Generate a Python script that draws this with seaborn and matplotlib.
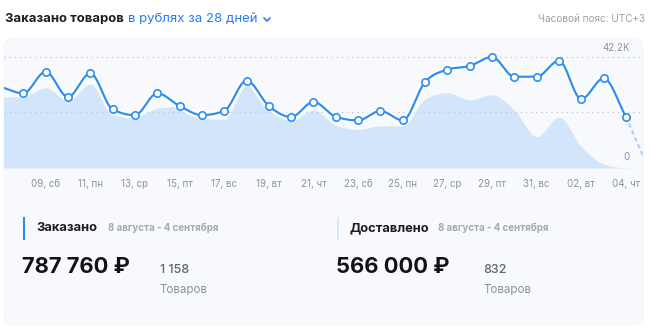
import numpy as np
import pandas as pd
import matplotlib
matplotlib.use("Agg")
import matplotlib.pyplot as plt
import seaborn as sns
from matplotlib.patches import FancyBboxPatch, Rectangle

# ---------------- data ----------------
# day index: 0 = 08 Aug; -1 = 07 Aug (partly visible), 28 = 05 Sep (dashed tail)
days = list(range(-1, 29))
ordered_k = [30.8, 28.4, 36.6, 27.0, 36.0, 22.3, 20.1, 28.4, 23.6, 20.1,
             21.7, 33.2, 23.6, 19.4, 25.1, 19.5, 18.1, 21.7, 18.1, 32.7,
             37.4, 38.8, 42.2, 34.7, 34.7, 40.8, 26.2, 34.1, 19.5, 0.0]
delivered_k = [27.0, 27.1, 30.5, 25.5, 31.9, 20.1, 19.3, 22.7, 23.3, 18.9,
               18.5, 31.2, 22.7, 18.0, 22.0, 16.3, 14.7, 16.0, 16.0, 26.2,
               28.6, 25.9, 27.8, 22.0, 11.9, 19.3, 8.1, 1.5, 0.1, 0.0]
tick_days = [1, 3, 5, 7, 9, 11, 13, 15, 17, 19, 21, 23, 25, 27]
tick_labels = ['09, сб', '11, пн', '13, ср', '15, пт', '17, вс', '19, вт', '21, чт',
               '23, сб', '25, пн', '27, ср', '29, пт', '31, вс', '02, вт', '04, чт']
y_max_label = 42.2
grid_values = [21.1, 42.2]

title = 'Заказано товаров'
title_link = 'в рублях за 28 дней'
timezone = 'Часовой пояс: UTC+3'
period = '8 августа - 4 сентября'
stat_names = ['Заказано', 'Доставлено']
stat_sums = ['787 760 ₽', '566 000 ₽']
stat_counts = ['1 158', '832']
count_unit = 'Товаров'

df = pd.DataFrame({'day': days, 'ordered': ordered_k, 'delivered': delivered_k})

# ---------------- helpers ----------------
def monotone_curve(x, y, n=24):
    x = np.asarray(x, float); y = np.asarray(y, float)
    h = np.diff(x); s = np.diff(y) / h
    m = np.zeros_like(y)
    m[0] = s[0]; m[-1] = s[-1]
    for k in range(1, len(y) - 1):
        p = (s[k - 1] * h[k] + s[k] * h[k - 1]) / (h[k - 1] + h[k])
        m[k] = (np.sign(s[k - 1]) + np.sign(s[k])) * min(abs(s[k - 1]), abs(s[k]), 0.5 * abs(p))
    xs, ys = [], []
    for k in range(len(x) - 1):
        t = np.linspace(0, 1, n, endpoint=False)
        h00 = 2 * t**3 - 3 * t**2 + 1; h10 = t**3 - 2 * t**2 + t
        h01 = -2 * t**3 + 3 * t**2; h11 = t**3 - t**2
        xs.append(x[k] + t * h[k])
        ys.append(h00 * y[k] + h10 * h[k] * m[k] + h01 * y[k + 1] + h11 * h[k] * m[k + 1])
    xs.append([x[-1]]); ys.append([y[-1]])
    return np.concatenate(xs), np.concatenate(ys)

W, H = 651, 330
def fx(px): return px / W
def fy(py): return 1 - py / H

sns.set_theme(style='white')
plt.rcParams['font.family'] = ['Inter', 'DejaVu Sans']

fig = plt.figure(figsize=(6.51, 3.30), dpi=100)
fig.patch.set_facecolor('white')

# card
card = FancyBboxPatch((0.04, 0.05), 6.39, 2.87,
                      boxstyle='round,pad=0,rounding_size=0.11',
                      transform=fig.dpi_scale_trans, facecolor='#f7f9fd',
                      edgecolor='#f0f2f7', linewidth=0.5, zorder=-5)
fig.patches.append(card)

BLUE = '#2f8ff0'
AREA = '#d2e5fa'
GRAY = '#8d939c'

ax = fig.add_axes([fx(4), fy(168), (643 - 4) / W, 130 / H])
ax.set_facecolor('none')
for sp in ax.spines.values():
    sp.set_visible(False)

# delivered area
ax_x, ax_y = monotone_curve(df['day'], df['delivered'])
ax.fill_between(ax_x, 0, ax_y, color=AREA, linewidth=0, zorder=1)

# gridlines
for g in grid_values:
    ax.axhline(g, color='#c4c8cf', lw=0.8, dashes=(1.3, 3.3), zorder=2)

# ordered line (solid part up to 04, dashed tail to 05)
solid = df[df['day'] <= 27]
lx, ly = monotone_curve(solid['day'], solid['ordered'])
ax.plot(lx, ly, color='white', lw=5.0, solid_capstyle='round', zorder=3)
sns.lineplot(x=lx, y=ly, ax=ax, color=BLUE, lw=1.6, zorder=4, sort=False)
tail = df[df['day'] >= 27]
sns.lineplot(x=tail['day'], y=tail['ordered'], ax=ax, color='#a9d0f7', lw=1.5,
             dashes=False, linestyle=(0, (2.0, 1.6)), zorder=4, sort=False)
pts = df[(df['day'] >= 0) & (df['day'] <= 27)]
sns.scatterplot(x=pts['day'], y=pts['ordered'], ax=ax, s=28, color='white',
                edgecolor=BLUE, linewidth=1.2, zorder=5)

ax.set_xlim((4 - 23.3) / 22.32, (643 - 23.3) / 22.32)
ax.set_ylim(0, 130 / 111 * 42.2)
ax.set_xticks(tick_days)
ax.set_xticklabels(tick_labels, fontsize=7, color=GRAY)
ax.set_yticks([])
ax.tick_params(axis='x', length=0, pad=8)
ax.set_xlabel(''); ax.set_ylabel('')

fig.text(fx(630), fy(48), f'{y_max_label}K', ha='right', va='center', fontsize=7, color=GRAY)
fig.text(fx(627), fy(157), '0', ha='center', va='center', fontsize=7, color=GRAY)

# header
fig.text(fx(5), fy(19), title, ha='left', va='center', fontsize=9.4,
         fontweight='bold', color='#1b1d21')
fig.text(fx(128), fy(19), title_link, ha='left', va='center', fontsize=9.5, color='#2a7cf0')
fig.lines.append(plt.Line2D([fx(264), fx(267), fx(270)], [fy(18), fy(21), fy(18)],
                            transform=fig.transFigure, color='#2a7cf0', lw=1.2))
fig.text(fx(645), fy(19), timezone, ha='right', va='center', fontsize=7.2, color='#9aa0a8')

# stats
bar_colors = ['#2a8cf2', '#d6e8fb']
for i, x0 in enumerate([23, 337]):
    fig.patches.append(Rectangle((fx(x0), fy(240)), 2.2 / W, 23 / H,
                                 transform=fig.transFigure, facecolor=bar_colors[i],
                                 edgecolor='none'))
    name_x = x0 + 13
    fig.text(fx(name_x), fy(228), stat_names[i], ha='left', va='center', fontsize=9.3,
             fontweight='bold', color='#1b1d21')
    per_x = [108, 438][i]
    fig.text(fx(per_x), fy(228), period, ha='left', va='center', fontsize=7.0,
             fontweight='bold', color='#a5abb3')
    fig.text(fx(x0 - 1), fy(267), stat_sums[i], ha='left', va='center', fontsize=15.8,
             fontweight='bold', color='#111214')
    cx = [160, 483][i]
    fig.text(fx(cx), fy(270), stat_counts[i], ha='left', va='center', fontsize=9.0,
             fontweight='medium', color='#5f6670')
    fig.text(fx(cx), fy(290), count_unit, ha='left', va='center', fontsize=8.3,
             color='#8d939c')

fig.savefig('out.png', dpi=100, facecolor='white')
